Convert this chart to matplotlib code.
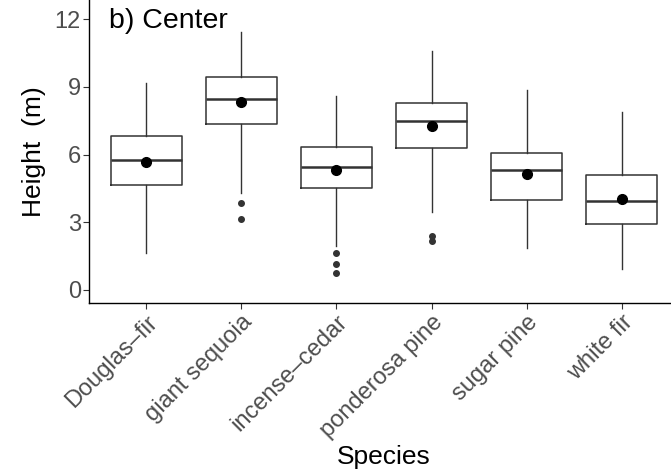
import matplotlib
matplotlib.use("Agg")
import matplotlib.pyplot as plt

plt.rcParams['font.family'] = ['Liberation Sans', 'DejaVu Sans']

species = ["Douglas–fir", "giant sequoia", "incense–cedar",
           "ponderosa pine", "sugar pine", "white fir"]
q1 = [4.66, 7.34, 4.53, 6.29, 3.99, 2.92]
med = [5.74, 8.46, 5.45, 7.47, 5.30, 3.93]
q3 = [6.83, 9.42, 6.33, 8.30, 6.08, 5.09]
whislo = [1.62, 4.28, 1.95, 3.45, 1.86, 0.92]
whishi = [9.18, 11.44, 8.58, 10.60, 8.88, 7.90]
means = [5.66, 8.31, 5.30, 7.25, 5.14, 4.02]
outliers = [[], [3.84, 3.14], [1.65, 1.14, 0.77], [2.40, 2.15], [], []]

stats = []
for i in range(len(species)):
    stats.append(dict(label=species[i], q1=q1[i], med=med[i], q3=q3[i],
                      whislo=whislo[i], whishi=whishi[i], fliers=outliers[i]))

fig = plt.figure(figsize=(6.71, 4.74), dpi=100)
ax = fig.add_axes([0.1331, 0.3608, 0.8784, 0.6392])

pos = list(range(len(species)))
edge = "#333333"
ax.bxp(stats, positions=pos, widths=0.75, showcaps=False,
       boxprops=dict(color=edge, linewidth=1.1),
       whiskerprops=dict(color=edge, linewidth=1.0),
       medianprops=dict(color=edge, linewidth=1.8),
       flierprops=dict(marker='o', markerfacecolor=edge, markeredgecolor=edge,
                       markersize=4))
ax.plot(pos, means, 'o', color='black', markersize=7, zorder=5)

ax.set_xlim(-0.6, len(species) - 0.4)
ax.set_ylim(-0.576, 12.85)
ax.set_yticks([0, 3, 6, 9, 12])
ax.set_xticks(pos)
ax.set_xticklabels(species, rotation=45, ha='right', va='top',
                   rotation_mode='anchor')
ax.tick_params(axis='both', colors='#333333', labelcolor='#4d4d4d',
               labelsize=17, length=4, width=0.8)
ax.tick_params(axis='x', pad=2)
ax.tick_params(axis='y', pad=2)

for s in ['top', 'right']:
    ax.spines[s].set_visible(False)
for s in ['left', 'bottom']:
    ax.spines[s].set_linewidth(1.0)

ax.set_xlabel("Species", fontsize=19, labelpad=2)
ax.set_ylabel("Height  (m)", fontsize=19, labelpad=6)
ax.text(-0.39, 11.9, "b) Center", fontsize=20.5, va='center', ha='left')

fig.savefig("out.png", dpi=100)
